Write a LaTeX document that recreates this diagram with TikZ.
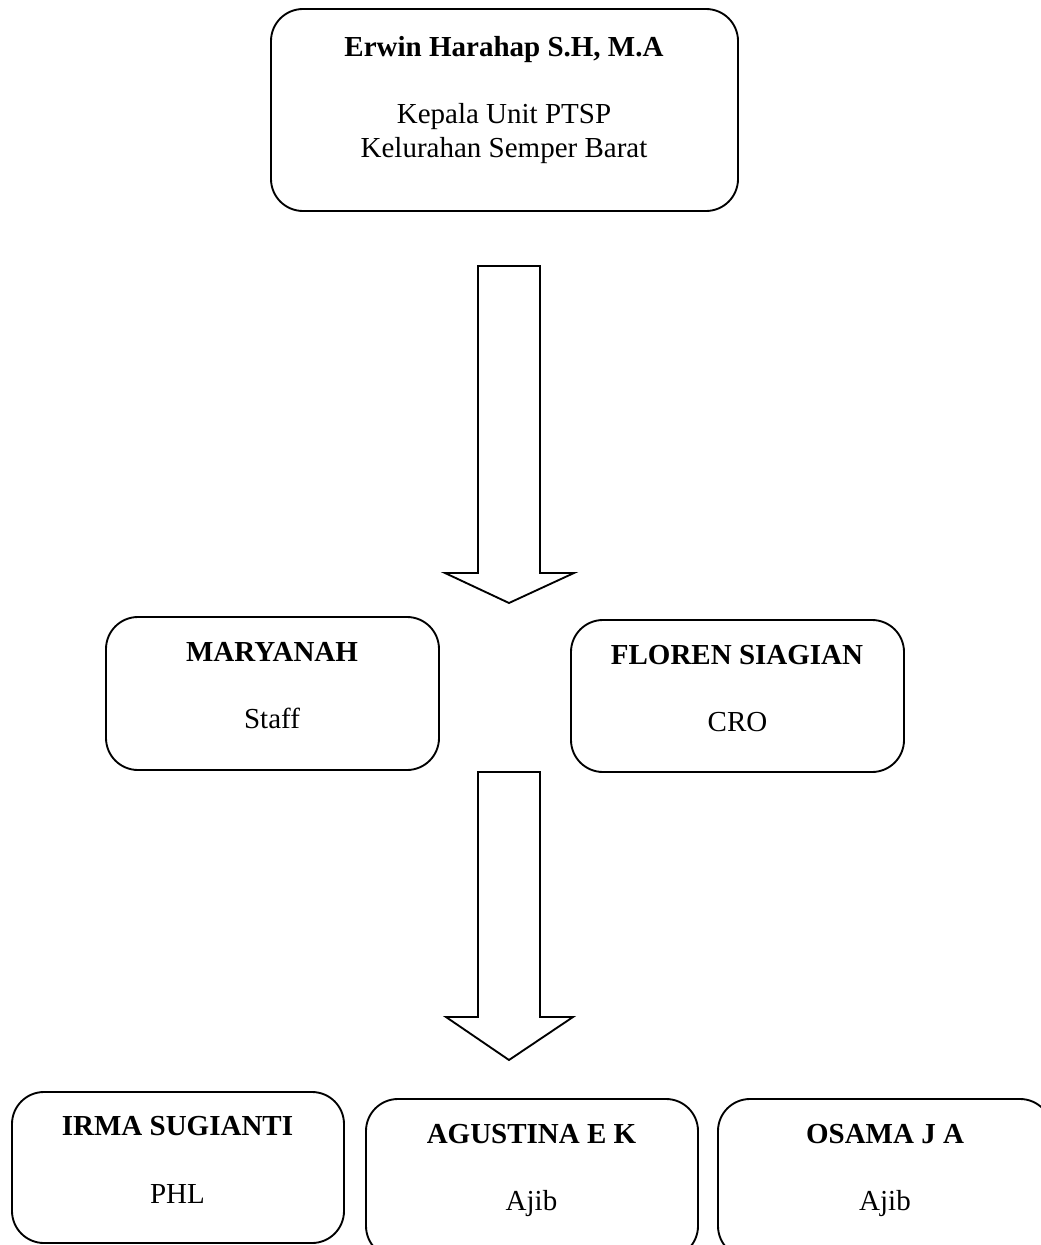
\documentclass[tikz,border=0pt]{standalone}
\usepackage{fontspec}
\setmainfont{Liberation Serif}
\begin{document}
\begin{tikzpicture}[x=0.75pt,y=-0.75pt,
  box/.style={draw=black, line width=1.4pt, rounded corners=24pt, inner sep=0pt, fill=white},
  ttl/.style={anchor=base, inner sep=0pt, font=\fontsize{21.75}{24.75}\selectfont\bfseries},
  sub/.style={anchor=base, inner sep=0pt, font=\fontsize{21.75}{24.75}\selectfont},
  blockarrow/.style={draw=black, line width=1.4pt, line join=miter, fill=white}]
\useasboundingbox (0,0) rectangle (1041,1245);
\clip (0,0) rectangle (1041,1245);
\fill[white] (0,0) rectangle (1041,1245);
% top box
\node[box, minimum width=350.25pt, minimum height=151.5pt] (head) at (504.5,110) {};
\node[ttl] (headname) at (504,57) {Erwin Harahap S.H, M.A};
\node[sub] (headrole1) at (504,124) {Kepala Unit PTSP};
\node[sub] (headrole2) at (504,157) {Kelurahan Semper Barat};
% arrow 1
\draw[blockarrow] (478,266) -- (540,266) -- (540,573) -- (574,573) -- (509,603) -- (445,573) -- (478,573) -- cycle;
% middle boxes
\node[box, minimum width=249.75pt, minimum height=114.75pt] (mary) at (272.5,693.5) {};
\node[ttl] (maryname) at (272,661.7) {MARYANAH};
\node[sub] (maryrole) at (272,728) {Staff};
\node[box, minimum width=249.75pt, minimum height=114pt] (floren) at (737.5,696) {};
\node[ttl] (florenname) at (737,664) {FLOREN SIAGIAN};
\node[sub] (florenrole) at (737.5,731.7) {CRO};
% arrow 2
\draw[blockarrow] (478,772) -- (540,772) -- (540,1017) -- (573,1017) -- (509,1060) -- (446,1017) -- (478,1017) -- cycle;
% bottom boxes
\node[box, minimum width=249pt, minimum height=113.25pt] (irma) at (178,1167.5) {};
\node[ttl] (irmaname) at (177.5,1135) {IRMA SUGIANTI};
\node[sub] (irmarole) at (177.5,1203) {PHL};
\node[box, minimum width=249pt, minimum height=119.25pt] (agus) at (532,1178.5) {};
\node[ttl] (agusname) at (531.5,1143) {AGUSTINA E K};
\node[sub] (agusrole) at (531.5,1210) {Ajib};
\node[box, minimum width=250.5pt, minimum height=119.25pt] (osama) at (885,1178.5) {};
\node[ttl] (osamaname) at (885,1143) {OSAMA J A};
\node[sub] (osamarole) at (885,1210) {Ajib};
\end{tikzpicture}
\end{document}
